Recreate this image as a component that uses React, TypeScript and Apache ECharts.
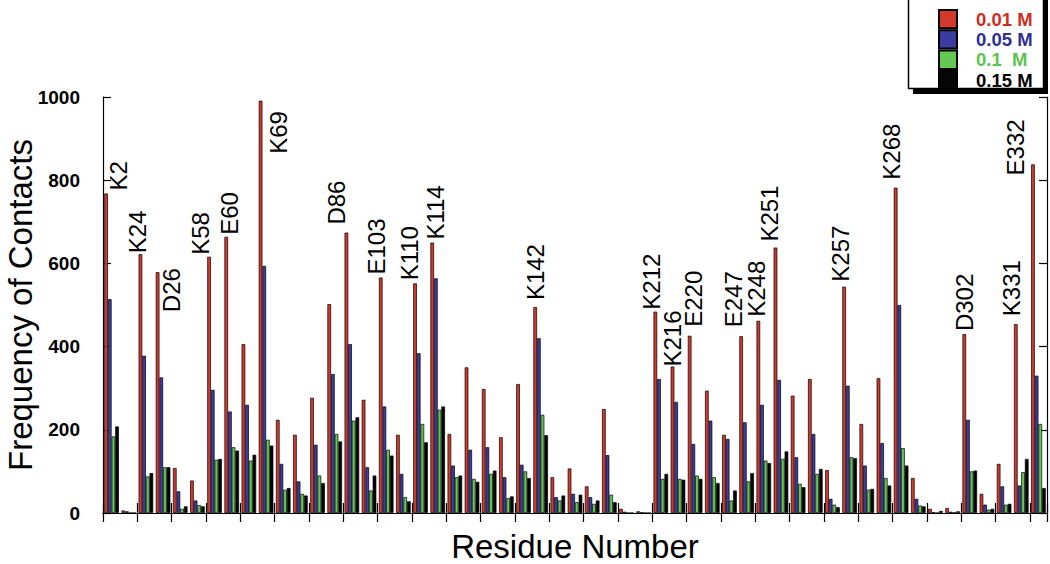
import React, { useEffect, useRef } from "react";
import * as echarts from "echarts";

// 55 residue groups (only the annotated ones are named in the figure)
const residueLabels: string[] = [
  "K2", "", "K24", "D26", "", "", "K58", "E60", "", "K69",
  "", "", "", "", "D86", "", "E103", "", "K110", "K114",
  "", "", "", "", "", "K142", "", "", "", "",
  "", "", "K212", "K216", "E220", "", "", "E247", "K248", "K251",
  "", "", "", "K257", "", "", "K268", "", "", "",
  "D302", "", "", "K331", "E332",
];
const categories = residueLabels.map((l, i) => l || `#${i + 1}`);

const SERIES_NAMES = ["0.01 M", "0.05 M", "0.1 M", "0.15 M"];

const conc001 = [
  768, 6, 622, 579, 108, 78, 616, 664, 406, 991,
  224, 188, 277, 502, 674, 272, 566, 188, 552, 650,
  190, 350, 298, 182, 310, 495, 86, 107, 64, 250,
  10, 4, 484, 352, 426, 294, 188, 425, 462, 638,
  282, 322, 103, 544, 214, 324, 782, 84, 10, 12,
  430, 46, 118, 454, 838,
];
const conc005 = [
  514, 4, 378, 326, 52, 30, 296, 244, 260, 594,
  118, 76, 164, 334, 406, 110, 256, 94, 384, 564,
  114, 152, 158, 86, 116, 420, 38, 46, 38, 139,
  3, 2, 322, 267, 166, 222, 178, 218, 260, 320,
  134, 190, 34, 306, 114, 168, 500, 34, 2, 3,
  224, 20, 64, 66, 330,
];
const conc01 = [
  184, 0, 88, 110, 10, 19, 128, 158, 126, 176,
  56, 46, 90, 190, 222, 54, 152, 38, 214, 248,
  86, 82, 94, 36, 100, 236, 30, 26, 22, 44,
  0, 0, 82, 82, 90, 86, 30, 76, 126, 130,
  70, 94, 20, 134, 56, 84, 156, 18, 0, 1,
  100, 8, 20, 98, 214,
];
const conc015 = [
  208, 0, 96, 110, 16, 16, 130, 150, 140, 162,
  60, 42, 72, 172, 230, 90, 138, 28, 170, 256,
  90, 75, 102, 40, 84, 187, 42, 44, 30, 26,
  0, 0, 94, 80, 82, 72, 54, 96, 120, 148,
  62, 106, 14, 132, 58, 66, 114, 16, 5, 4,
  102, 10, 22, 130, 60,
];

const yTicks = [0, 200, 400, 600, 800, 1000];

// label placement tweaks: screen px [right, down] from the red bar top
const LABEL_SHIFT: Record<string, [number, number]> = {
  K2: [12, -3], K24: [-3, -1], D26: [14, 40], K58: [-9, -2], E60: [3, -2],
  K69: [18, 53], D86: [-10, -8], E103: [-4, -3], K110: [-6, -3], K114: [3, -3],
  K142: [0, -7], K212: [-4, -2], K216: [0, 0], E220: [4, -9], E247: [-8, -9],
  K248: [-2, -4], K251: [-6, -6], K257: [-4, -5], K268: [-4, -8], D302: [0, -3],
  K331: [-4, -8], E332: [-17, 11],
};

const BAR_COLORS = ["#d4382b", "#3b3c9f", "#62c852", "#050505"];
const TEXT_COLORS = ["#cf2c22", "#2f2f92", "#5cc44e", "#000000"];
const FONT = "'Liberation Sans', Arial, Helvetica, sans-serif";

export default function App() {
  const ref = useRef<HTMLDivElement>(null);
  useEffect(() => {
    if (!ref.current) return;
    const chart = echarts.init(ref.current, undefined, { renderer: "svg" });
    const seriesData = [conc001, conc005, conc01, conc015];
    const series = seriesData.map((arr, si) => ({
      name: SERIES_NAMES[si],
      type: "bar",
      xAxisIndex: 0,
      yAxisIndex: 0,
      barGap: "0%",
      barCategoryGap: "15%",
      itemStyle: { color: BAR_COLORS[si], borderColor: "#000", borderWidth: 0.7 },
      label:
        si === 0
          ? {
              show: false,
              position: "top",
              distance: 0,
              rotate: 90,
              align: "left",
              verticalAlign: "middle",
              fontSize: 24,
              fontFamily: FONT,
              color: "#000",
            }
          : { show: false },
      data: arr.map((v, i) => {
        const lab = residueLabels[i];
        if (si === 0 && lab) {
          const s = LABEL_SHIFT[lab] || [0, 0];
          // offset is applied in the rotated text frame: [along text (up), across (right)]
          return {
            value: v,
            label: { show: true, formatter: lab, offset: [-s[1], s[0]] },
          };
        }
        return v;
      }),
    }));

    chart.setOption({
      animation: false,
      backgroundColor: "#fff",
      grid: { left: 103, right: 3, top: 97, bottom: 51, containLabel: false, outerBoundsMode: "none" },
      legend: {
        orient: "vertical",
        left: 938,
        top: 9,
        padding: 0,
        itemWidth: 18,
        itemHeight: 18.3,
        itemGap: 0,
        selectedMode: false,
        icon: "rect",
        z: 10,
        textStyle: {
          fontSize: 18.5,
          fontWeight: "bold",
          fontFamily: FONT,
          lineHeight: 18.3,
          height: 18.3,
          padding: [0, 0, 0, 14],
        },
        formatter: (n: string) => (n === "0.1 M" ? "0.1\u00a0\u00a0M" : n),
        data: SERIES_NAMES.map((n, i) => ({ name: n, textStyle: { color: TEXT_COLORS[i] } })),
      },
      graphic: [
        { type: "rect", z: 5, shape: { x: 913, y: -4, width: 135, height: 98 }, style: { fill: "#000" } },
        {
          type: "rect",
          z: 6,
          shape: { x: 908.5, y: -4, width: 135, height: 92.5 },
          style: { fill: "#fff", stroke: "#000", lineWidth: 1.5 },
        },
      ],
      xAxis: [
        {
          type: "category",
          data: categories,
          position: "bottom",
          boundaryGap: true,
          axisLine: { show: true, lineStyle: { color: "#000", width: 1.2 } },
          axisTick: { show: true, inside: true, length: 10, interval: 1, lineStyle: { color: "#000", width: 1.2 } },
          axisLabel: { show: false },
          splitLine: { show: false },
          name: "Residue Number",
          nameLocation: "middle",
          nameGap: 17,
          nameTextStyle: { fontSize: 33, fontFamily: FONT, color: "#000" },
        },
        {
          type: "category",
          data: categories,
          position: "top",
          boundaryGap: true,
          axisLine: { show: true, lineStyle: { color: "#000", width: 1.2 } },
          axisTick: { show: true, inside: true, length: 9, interval: 1, lineStyle: { color: "#000", width: 1.2 } },
          axisLabel: { show: false },
          splitLine: { show: false },
        },
      ],
      yAxis: [
        {
          type: "value",
          min: yTicks[0],
          max: yTicks[yTicks.length - 1],
          interval: 200,
          position: "left",
          axisLine: { show: true, lineStyle: { color: "#000", width: 1.2 } },
          axisTick: { show: true, inside: true, length: 8, lineStyle: { color: "#000", width: 1.2 } },
          axisLabel: {
            show: true,
            margin: 23,
            fontSize: 19,
            fontWeight: "bold",
            fontFamily: FONT,
            color: "#000",
            formatter: (v: number) => String(v),
          },
          splitLine: { show: false },
          name: "Frequency of Contacts",
          nameLocation: "middle",
          nameGap: 66,
          nameMoveOverlap: false,
          nameTextStyle: { fontSize: 33, fontFamily: FONT, color: "#000" },
        },
        {
          type: "value",
          min: yTicks[0],
          max: yTicks[yTicks.length - 1],
          interval: 200,
          position: "right",
          axisLine: { show: true, lineStyle: { color: "#000", width: 1.2 } },
          axisTick: { show: true, inside: true, length: 8, lineStyle: { color: "#000", width: 1.2 } },
          axisLabel: { show: false },
          splitLine: { show: false },
        },
      ],
      series,
    });
    return () => chart.dispose();
  }, []);
  return (
    <div
      ref={ref}
      style={{ position: "absolute", left: 0, top: 0, width: 1050, height: 564, background: "#fff" }}
    />
  );
}
